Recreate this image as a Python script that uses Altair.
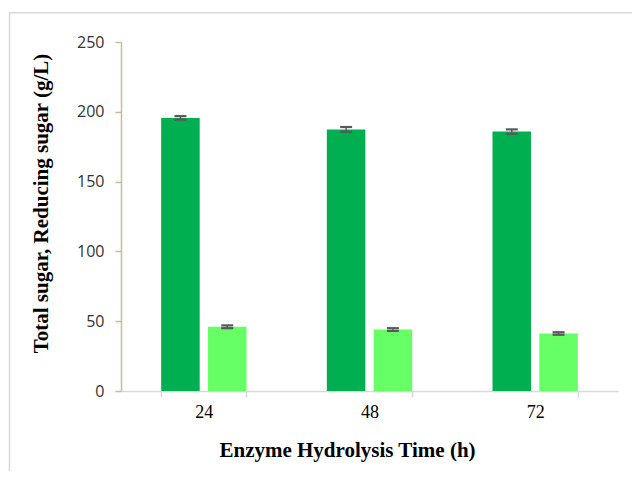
import altair as alt
import pandas as pd

# ---- data ----
times = ["24", "48", "72"]
series = ["Total sugar", "Reducing sugar"]
total_sugar = [195.6, 187.4, 185.8]
total_err = [1.3, 1.7, 1.6]
reducing_sugar = [46.0, 44.0, 41.2]
reducing_err = [1.0, 1.0, 0.9]
y_ticks = [0, 50, 100, 150, 200, 250]
colors = ["#00B050", "#66FF66"]

rows = []
for i, t in enumerate(times):
    rows.append({"time": t, "series": series[0], "value": total_sugar[i],
                 "lo": total_sugar[i] - total_err[i], "hi": total_sugar[i] + total_err[i]})
    rows.append({"time": t, "series": series[1], "value": reducing_sugar[i],
                 "lo": reducing_sugar[i] - reducing_err[i], "hi": reducing_sugar[i] + reducing_err[i]})
df = pd.DataFrame(rows)

W, H = 497, 349

x_enc = alt.X("time:N", sort=times,
              scale=alt.Scale(paddingInner=0.485, paddingOuter=0.2425),
              axis=alt.Axis(title="Enzyme Hydrolysis Time (h)", labelAngle=0,
                            labelFont="Liberation Serif", labelFontSize=18, labelColor="#000000",
                            labelBaseline="middle", labelPadding=15,
                            titleFont="Liberation Serif", titleFontSize=21, titleFontWeight="bold",
                            titleColor="#000000", titleX=226, titleY=65,
                            titleBaseline="alphabetic", titleAlign="center",
                            domainColor="#d9d9d9", domainWidth=1.5,
                            tickColor="#d9d9d9", tickWidth=1.5, tickSize=6,
                            tickBand="extent"))
xoff_enc = alt.XOffset("series:N", sort=series,
                       scale=alt.Scale(paddingInner=0.177, paddingOuter=0))
y_scale = alt.Scale(domain=[0, 250], nice=False)

bars = alt.Chart(df).mark_bar().encode(
    x=x_enc,
    xOffset=xoff_enc,
    y=alt.Y("value:Q", scale=y_scale,
            axis=alt.Axis(values=y_ticks, grid=False,
                          title="Total sugar, Reducing sugar (g/L)",
                          labelFont="Open Sans", labelFontSize=16, labelColor="#333333",
                          labelPadding=11,
                          titleFont="Liberation Serif", titleFontSize=21, titleFontWeight="bold",
                          titleColor="#000000", titleAngle=270, titleAlign="center",
                          titleBaseline="alphabetic", titleX=-74, titleY=161,
                          domainColor="#c4bd97", domainWidth=1.5,
                          tickColor="#c4bd97", tickWidth=1.5, tickSize=6)),
    color=alt.Color("series:N", sort=series,
                    scale=alt.Scale(domain=series, range=colors), legend=None),
)

err_rule = alt.Chart(df).mark_rule(color="#595959", strokeWidth=1.5).encode(
    x=alt.X("time:N", sort=times),
    xOffset=alt.XOffset("series:N", sort=series),
    y=alt.Y("lo:Q", scale=y_scale),
    y2="hi:Q",
)
cap_lo = alt.Chart(df).mark_tick(color="#595959", size=12, thickness=2.2, opacity=1).encode(
    x=alt.X("time:N", sort=times),
    xOffset=alt.XOffset("series:N", sort=series),
    y=alt.Y("lo:Q", scale=y_scale),
)
cap_hi = alt.Chart(df).mark_tick(color="#595959", size=12, thickness=2.2, opacity=1).encode(
    x=alt.X("time:N", sort=times),
    xOffset=alt.XOffset("series:N", sort=series),
    y=alt.Y("hi:Q", scale=y_scale),
)

frame_data = alt.Data(values=[{"k": 1}])
frame_top = alt.Chart(frame_data).mark_rule(color="#d9d9d9", strokeWidth=1.5).encode(
    x=alt.value(-111.5), x2=alt.value(530), y=alt.value(-29.3))
frame_left = alt.Chart(frame_data).mark_rule(color="#d9d9d9", strokeWidth=1.5).encode(
    x=alt.value(-111.5), y=alt.value(-29.3), y2=alt.value(460))

chart = alt.layer(frame_top, frame_left, bars, err_rule, cap_lo, cap_hi).properties(
    width=W, height=H,
    autosize=alt.AutoSizeParams(type="none"),
    padding={"left": 113, "top": 34, "right": 14, "bottom": 80},
).configure_view(stroke="transparent").configure_tick(bandSize=12)

chart.save("out.html", embed_options={"renderer": "svg", "actions": False})
